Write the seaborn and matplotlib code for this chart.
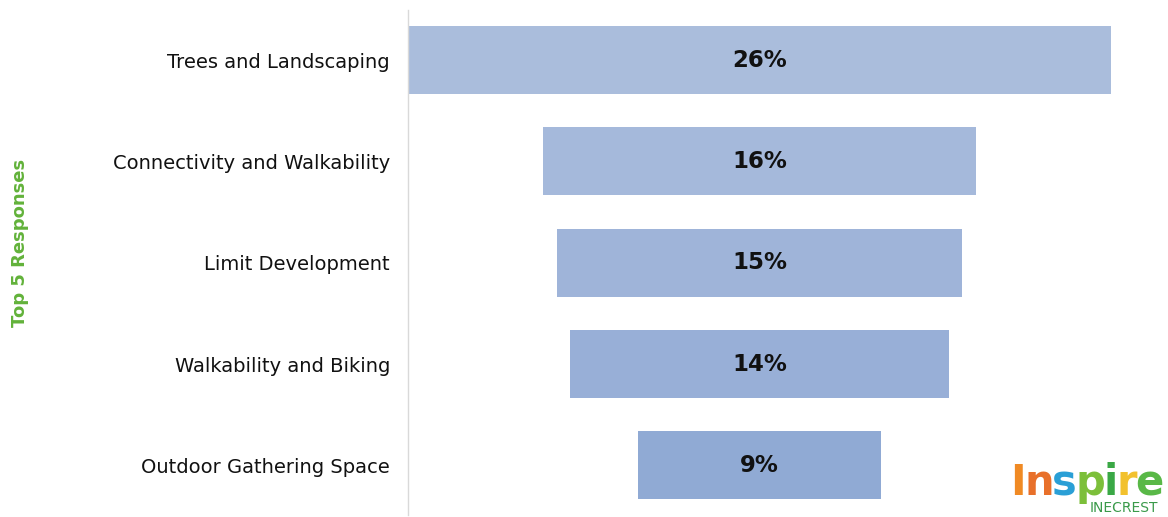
import matplotlib
matplotlib.use("Agg")
import matplotlib.pyplot as plt
import seaborn as sns
import pandas as pd

# Top five responses and their shares (percent)
categories = ["Trees and Landscaping", "Connectivity and Walkability",
              "Limit Development", "Walkability and Biking",
              "Outdoor Gathering Space"]
values = [26, 16, 15, 14, 9]
bar_colors = ["#aabddc", "#a5b9db", "#9fb4d9", "#98afd7", "#90aad4"]

df = pd.DataFrame({"response": categories, "share": values})

sns.set_theme(style="white")
plt.rcParams["font.family"] = ["DejaVu Sans"]

fig = plt.figure(figsize=(11.68, 5.17), dpi=100)
ax = fig.add_axes([408 / 1168, 2 / 517, (1111 - 408) / 1168, (515 - 2 - 8) / 517])

sns.barplot(data=df, x="share", y="response", hue="response",
            palette=bar_colors, legend=False, orient="h",
            width=0.67, ax=ax, saturation=1)

# Center each bar on the widest one to form a funnel
vmax = max(values)
for patch, v in zip(ax.patches, values):
    patch.set_x((vmax - v) / 2)
    patch.set_edgecolor("none")
    ax.text(vmax / 2, patch.get_y() + patch.get_height() / 2, f"{v}%",
            ha="center", va="center", fontsize=16.5, fontweight="bold",
            color="#111111")

ax.set_xlim(0, vmax)
ax.set_ylim(4.49, -0.494)
ax.set_xticks([])
ax.set_xlabel("")
ax.set_ylabel("")
for s in ["top", "right", "bottom"]:
    ax.spines[s].set_visible(False)
ax.spines["left"].set_color("#d9d9d9")
ax.spines["left"].set_linewidth(1.0)
ax.tick_params(axis="y", length=0, pad=13, labelsize=14, labelcolor="#111111")

fig.text(20 / 1168, 1 - 243 / 517, "Top 5 Responses", rotation=90,
         ha="center", va="center", fontsize=13, fontweight="bold",
         color="#62b23a")

# Inspire Pinecrest wordmark
letters = list("Inspire")
letter_colors = ["#f08a24", "#e8702a", "#2a9fd6", "#7cbf3a", "#3aa845", "#f2c12e", "#59b847"]
x = 1010 / 1168
renderer = fig.canvas.get_renderer()
for ch, c in zip(letters, letter_colors):
    t = fig.text(x, 1 - 483 / 517, ch, fontsize=30, fontweight="bold",
                 color=c, ha="left", va="center")
    bb = t.get_window_extent(renderer=renderer)
    x += (bb.width - 1.5) / 1168
fig.text(1090 / 1168, 1 - 508 / 517, "INECREST", fontsize=10, color="#3a9a4a",
         ha="left", va="center")

fig.savefig("out.png", dpi=100)
